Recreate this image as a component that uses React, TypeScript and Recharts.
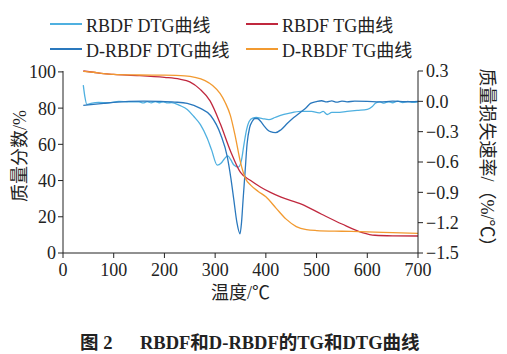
import React from "react"
import { Label, Line, LineChart, XAxis, YAxis } from "recharts"

// temperature (°C) / value pairs
const rbdfTgT = [40, 60, 80, 100, 150, 200, 230, 250, 270, 290, 310, 330, 350, 370, 390, 410, 430, 470, 510, 550, 590, 615, 650, 700]
const rbdfTg = [100.5, 99.8, 99.0, 98.6, 98.0, 97.0, 96.0, 94.5, 90.5, 84.0, 71.5, 56.5, 44.5, 40.0, 36.3, 33.3, 30.8, 27.0, 21.4, 16.0, 11.3, 9.8, 9.5, 9.4]

const drbdfTgT = [40, 60, 80, 100, 150, 200, 240, 260, 280, 295, 310, 320, 330, 340, 350, 360, 370, 385, 400, 420, 440, 460, 480, 500, 550, 600, 650, 700]
const drbdfTg = [100.3, 99.8, 99.0, 98.6, 98.3, 98.2, 97.8, 97.0, 95.2, 92.5, 88.0, 83.0, 76.0, 64.0, 50.0, 41.0, 37.5, 34.0, 31.0, 24.8, 18.7, 14.6, 12.9, 12.4, 12.0, 11.7, 11.2, 10.8]

const rbdfDtgT = [40, 43, 47, 55, 70, 90, 110, 130, 150, 158, 166, 174, 182, 190, 198, 206, 214, 230, 245, 258, 271, 284, 293, 304, 312, 318, 325, 331, 337, 346, 352, 357, 362, 367, 374, 381, 393, 406, 418, 429, 445, 469, 490, 505, 513, 521, 530, 540, 560, 580, 600, 610, 617, 625, 633, 641, 650, 660, 670, 680, 690, 700]
const rbdfDtg = [0.16, 0.05, -0.03, -0.02, -0.01, -0.015, 0.0, -0.005, -0.004, -0.016, -0.003, -0.015, -0.002, -0.014, -0.004, -0.016, -0.012, -0.04, -0.08, -0.15, -0.23, -0.36, -0.48, -0.63, -0.61, -0.57, -0.54, -0.58, -0.63, -0.65, -0.58, -0.42, -0.28, -0.2, -0.165, -0.16, -0.17, -0.18, -0.16, -0.14, -0.12, -0.1, -0.1, -0.115, -0.1, -0.13, -0.11, -0.11, -0.1, -0.09, -0.08, -0.05, -0.016, -0.006, -0.018, -0.004, -0.014, 0.002, -0.012, 0.0, -0.01, -0.004]

const drbdfDtgT = [40, 60, 80, 100, 130, 160, 190, 220, 245, 271, 291, 311, 324, 331, 337, 343, 349, 352, 355, 359, 363, 368, 373, 378, 383, 390, 396, 403, 409, 419, 430, 442, 455, 469, 480, 488, 500, 510, 520, 530, 540, 550, 560, 575, 600, 625, 650, 675, 700]
const drbdfDtg = [-0.04, -0.03, -0.02, -0.01, 0.0, 0.003, 0.0, -0.007, -0.02, -0.07, -0.14, -0.33, -0.55, -0.76, -0.98, -1.2, -1.31, -1.2, -0.98, -0.7, -0.42, -0.26, -0.2, -0.17, -0.17, -0.2, -0.24, -0.28, -0.3, -0.31, -0.28, -0.22, -0.16, -0.105, -0.06, -0.02, -0.002, 0.006, -0.006, 0.004, -0.008, 0.003, -0.005, 0.002, 0.0, -0.006, 0.002, -0.004, 0.0]

const xTicks = [0, 100, 200, 300, 400, 500, 600, 700]
const leftTicks = [0, 20, 40, 60, 80, 100]
const rightTicks = [0.3, 0, -0.3, -0.6, -0.9, -1.2, -1.5]

const zip = (ts: number[], vs: number[]) => ts.map((t, i) => ({ t, v: vs[i] }))

const series = [
    { name: "RBDF DTG曲线", color: "#4fb0e0", axis: "right", data: zip(rbdfDtgT, rbdfDtg) },
    { name: "RBDF TG曲线", color: "#c0283e", axis: "left", data: zip(rbdfTgT, rbdfTg) },
    { name: "D-RBDF DTG曲线", color: "#2a78bd", axis: "right", data: zip(drbdfDtgT, drbdfDtg) },
    { name: "D-RBDF TG曲线", color: "#f29a30", axis: "left", data: zip(drbdfTgT, drbdfTg) },
]

const FONT = '"Liberation Serif", "Times New Roman", "Noto Sans CJK SC", serif'
const tickStyle = { fill: "#222", fontSize: 18, fontFamily: FONT }
const fmtRight = (v: number) => (v < 0 ? "\u2212" : "") + Math.abs(v).toFixed(1)

function ChartLegend() {
    return (
        <div style={{ position: "absolute", left: 50, top: 13, width: 420, display: "grid", gridTemplateColumns: "196px 200px", rowGap: 4, fontFamily: FONT, fontSize: 18, color: "#222" }}>
            {series.map(s => (
                <div key={s.name} style={{ display: "flex", alignItems: "center", height: 21 }}>
                    <span style={{ display: "inline-block", width: 32, height: 0, borderTop: `2px solid ${s.color}`, marginRight: 4 }} />
                    <span>{s.name}</span>
                </div>
            ))}
        </div>
    )
}

export default function App() {
    return (
        <div style={{ position: "absolute", left: 0, top: 0, width: 507, height: 354, background: "#fff" }}>
            <LineChart width={507} height={354} margin={{ top: 71, right: 19, bottom: 71, left: 13 }}>
                <XAxis dataKey="t" type="number" domain={[0, 700]} ticks={xTicks} tickSize={5} tickMargin={5}
                    stroke="#222" tick={tickStyle} height={30} allowDuplicatedCategory={false}>
                    <Label content={({ viewBox }: any) => (
                        <text x={viewBox.x + viewBox.width / 2} y={299} textAnchor="middle" fontSize={18} fontFamily={FONT} fill="#222">温度/℃</text>
                    )} />
                </XAxis>
                <YAxis yAxisId="left" orientation="left" domain={[0, 100]} ticks={leftTicks} width={50} tickSize={5} tickMargin={2}
                    stroke="#222" tick={tickStyle}>
                    <Label content={({ viewBox }: any) => (
                        <text x={20} y={viewBox.y + viewBox.height / 2 - 6} transform={`rotate(-90 20 ${viewBox.y + viewBox.height / 2 - 6})`}
                            textAnchor="middle" dominantBaseline="central" fontSize={18} fontFamily={FONT} fill="#222">质量分数/%</text>
                    )} />
                </YAxis>
                <YAxis yAxisId="right" orientation="right" domain={[-1.5, 0.3]} ticks={rightTicks} width={70} tickSize={5} tickMargin={3}
                    stroke="#222" tick={tickStyle} tickFormatter={fmtRight} allowDataOverflow>
                    <Label content={({ viewBox }: any) => (
                        <text x={487} y={viewBox.y + viewBox.height / 2} transform={`rotate(90 487 ${viewBox.y + viewBox.height / 2})`}
                            textAnchor="middle" dominantBaseline="central" fontSize={18} fontFamily={FONT} fill="#222">质量损失速率/（%/℃）</text>
                    )} />
                </YAxis>
                {series.map(s => (
                    <Line key={s.name} data={s.data} dataKey="v" yAxisId={s.axis} type="monotone" stroke={s.color}
                        strokeWidth={1.3} dot={false} isAnimationActive={false} />
                ))}
            </LineChart>
            <ChartLegend />
            <div style={{ position: "absolute", left: 0, top: 328, width: 507, fontFamily: FONT, fontSize: 18.5, fontWeight: "bold", color: "#222", whiteSpace: "pre" }}>
                <span style={{ position: "absolute", left: 80 }}>图 2</span>
                <span style={{ position: "absolute", left: 140 }}>RBDF和D-RBDF的TG和DTG曲线</span>
            </div>
        </div>
    )
}
